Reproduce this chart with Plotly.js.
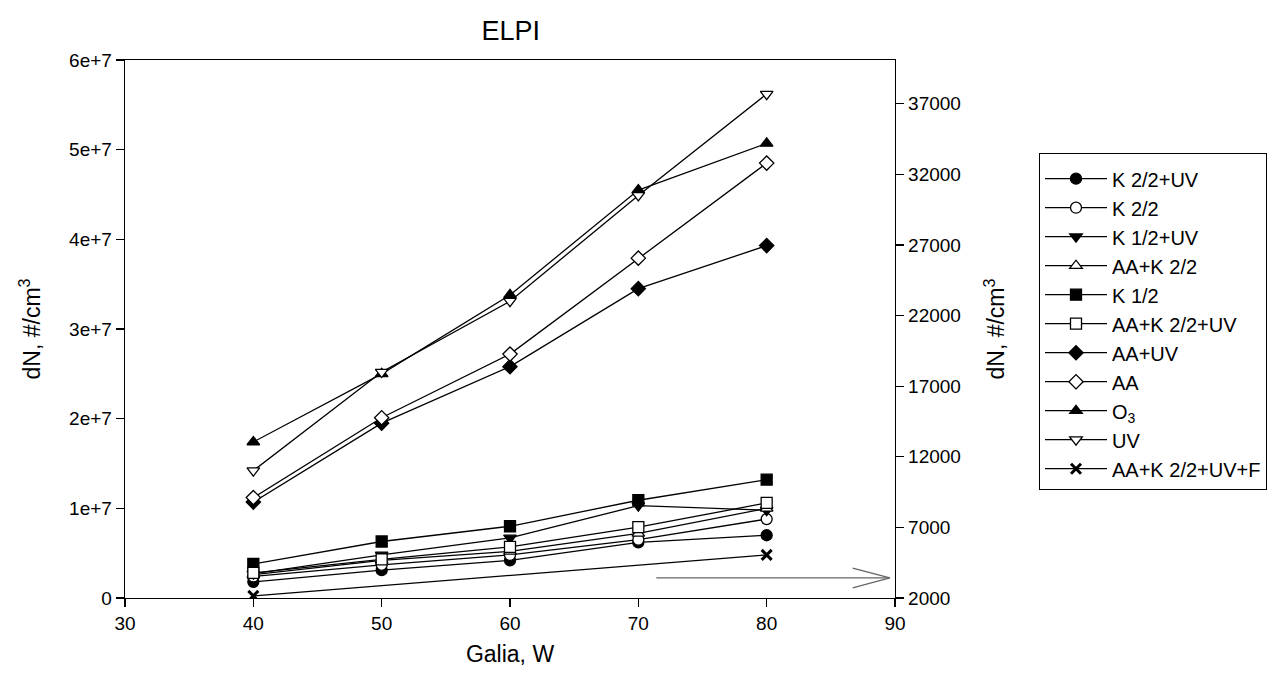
<!DOCTYPE html>
<html>
<head>
<meta charset="utf-8">
<script src="https://cdn.plot.ly/plotly-3.0.1.min.js"></script>
<style>body{margin:0;background:#fff}#chart{width:1280px;height:684px}</style>
</head>
<body>
<div id="chart"></div>
<script>
// Galia, W
const power = [40, 50, 60, 70, 80];

// dN, #/cm3 (left axis)
const k22uv   = [1.8e6, 3.1e6, 4.2e6, 6.2e6, 7.0e6];
const k22     = [2.4e6, 3.7e6, 4.8e6, 6.5e6, 8.8e6];
const k12uv   = [2.7e6, 4.8e6, 6.7e6, 10.3e6, 9.8e6];
const aak22   = [2.6e6, 4.2e6, 5.2e6, 7.2e6, 10.0e6];
const k12     = [3.8e6, 6.3e6, 8.0e6, 10.9e6, 13.2e6];
const aak22uv = [2.8e6, 4.3e6, 5.7e6, 7.9e6, 10.6e6];
const aauv    = [1.07e7, 1.95e7, 2.58e7, 3.45e7, 3.93e7];
const aa      = [1.12e7, 2.01e7, 2.72e7, 3.79e7, 4.85e7];
const o3      = [1.74e7, 2.50e7, 3.38e7, 4.55e7, 5.07e7];
const uv      = [1.42e7, 2.52e7, 3.31e7, 4.49e7, 5.62e7];
// dN, #/cm3 (right axis)
const aak22uvf = [2150, 5050];
const powerF   = [40, 80];

const names = ["K 2/2+UV", "K 2/2", "K 1/2+UV", "AA+K 2/2", "K 1/2", "AA+K 2/2+UV",
               "AA+UV", "AA", "O<sub>3</sub>", "UV", "AA+K 2/2+UV+F"];
const leftTickVals = [0, 1e7, 2e7, 3e7, 4e7, 5e7, 6e7];
const leftTickText = ["0", "1e+7", "2e+7", "3e+7", "4e+7", "5e+7", "6e+7"];

function tr(name, y, symbol, filled, x, axis) {
  return {
    x: x || power, y: y, name: name, type: 'scatter', mode: 'lines+markers',
    yaxis: axis || 'y',
    line: {color: '#000', width: 1.3},
    marker: {symbol: symbol, size: 11, color: filled ? '#000' : '#fff',
             line: {color: '#000', width: 1.3}}
  };
}

const data = [
  tr(names[0], k22uv, 'circle', true),
  tr(names[1], k22, 'circle', false),
  tr(names[2], k12uv, 'triangle-down', true),
  tr(names[3], aak22, 'triangle-up', false),
  tr(names[4], k12, 'square', true),
  tr(names[5], aak22uv, 'square', false),
  tr(names[6], aauv, 'diamond', true),
  tr(names[7], aa, 'diamond', false),
  tr(names[8], o3, 'triangle-up', true),
  tr(names[9], uv, 'triangle-down', false),
  {
    x: powerF, y: aak22uvf, name: names[10], type: 'scatter', mode: 'lines+markers',
    yaxis: 'y2', line: {color: '#000', width: 1.3},
    marker: {symbol: 'x-thin', size: 10, color: '#000', line: {color: '#000', width: 3}}
  }
];

const fam = 'Liberation Sans, Arial, sans-serif';
const tickFont = {family: fam, size: 19, color: '#000'};
const titleFont = {family: fam, size: 23, color: '#000'};
const arrowColor = '#666';

const layout = {
  width: 1280, height: 684,
  margin: {l: 125, r: 385, t: 60, b: 86},
  paper_bgcolor: '#fff', plot_bgcolor: '#fff',
  font: {family: fam, size: 19, color: '#000'},
  showlegend: true,
  title: {text: 'ELPI', font: {family: fam, size: 27, color: '#000'},
          x: 0.399, xanchor: 'center', y: 0.955, yanchor: 'middle'},
  xaxis: {
    range: [30, 90], tick0: 30, dtick: 10, showgrid: false, zeroline: false,
    showline: true, linecolor: '#000', linewidth: 1.3, mirror: true,
    ticks: 'outside', ticklen: 8, tickcolor: '#000', tickwidth: 1.3,
    tickfont: tickFont,
    title: {text: 'Galia, W', font: titleFont, standoff: 12}
  },
  yaxis: {
    range: [0, 6e7], tickvals: leftTickVals, ticktext: leftTickText,
    showgrid: false, zeroline: false,
    showline: true, linecolor: '#000', linewidth: 1.3,
    ticks: 'outside', ticklen: 8, tickcolor: '#000', tickwidth: 1.3,
    tickfont: tickFont,
    title: {text: 'dN, #/cm<sup>3</sup>', font: titleFont, standoff: 22}
  },
  yaxis2: {
    overlaying: 'y', side: 'right', range: [2000, 40100], tick0: 2000, dtick: 5000,
    tickformat: 'd', showgrid: false, zeroline: false,
    showline: true, linecolor: '#000', linewidth: 1.3,
    ticks: 'outside', ticklen: 8, tickcolor: '#000', tickwidth: 1.3,
    tickfont: tickFont,
    title: {text: 'dN, #/cm<sup>3</sup>', font: titleFont, standoff: 28}
  },
  legend: {
    xref: 'container', yref: 'container', x: 1039 / 1280, y: 1 - 153 / 684,
    xanchor: 'left', yanchor: 'top',
    bordercolor: '#000', borderwidth: 1, bgcolor: '#fff',
    font: {family: fam, size: 20, color: '#000'},
    title: {text: ' ', font: {family: fam, size: 4, color: '#000'}},
    itemwidth: 62, tracegroupgap: 0, traceorder: 'normal'
  },
  shapes: [
    {type: 'line', xref: 'x', yref: 'y2', x0: 71.4, x1: 89.6, y0: 3420, y1: 3420,
     line: {color: arrowColor, width: 1.3}},
    {type: 'line', xref: 'x', yref: 'y2', x0: 86.7, x1: 89.6, y0: 4120, y1: 3420,
     line: {color: arrowColor, width: 1.3}},
    {type: 'line', xref: 'x', yref: 'y2', x0: 86.7, x1: 89.6, y0: 2720, y1: 3420,
     line: {color: arrowColor, width: 1.3}}
  ]
};

Plotly.newPlot('chart', data, layout, {displayModeBar: false, staticPlot: true});
</script>
</body>
</html>
